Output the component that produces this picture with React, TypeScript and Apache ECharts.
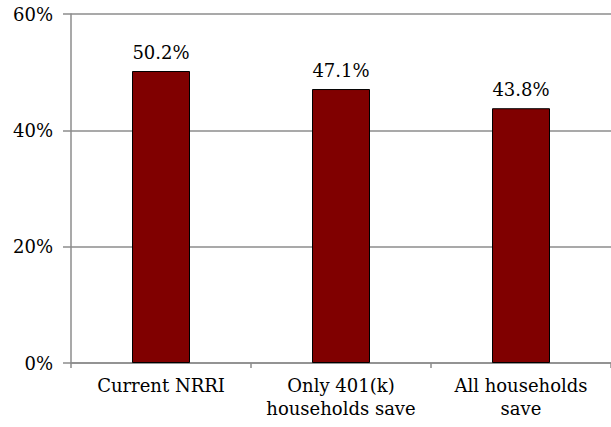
import React, { useEffect, useRef } from "react";
import * as echarts from "echarts";

const categories = ["Current NRRI", "Only 401(k)\nhouseholds save", "All households\nsave"];
const values = [50.2, 47.1, 43.8];
const yTicks = [0, 20, 40, 60];

export default function App() {
  const ref = useRef<HTMLDivElement>(null);
  useEffect(() => {
    const chart = echarts.init(ref.current!, null, { renderer: "svg" });
    const font = "DejaVu Serif";
    chart.setOption({
      animation: false,
      textStyle: { fontFamily: font },
      grid: { left: 71, right: -6, top: 14, bottom: 64, containLabel: false },
      xAxis: {
        type: "category",
        data: categories,
        axisLine: { lineStyle: { color: "#8c8c8c", width: 1.5 } },
        axisTick: { show: true, length: 5, lineStyle: { color: "#8c8c8c", width: 1.5 } },
        axisLabel: {
          color: "#000",
          fontFamily: font,
          fontSize: 18,
          lineHeight: 23,
          margin: 11,
          interval: 0,
        },
      },
      yAxis: {
        type: "value",
        min: yTicks[0],
        max: yTicks[yTicks.length - 1],
        interval: 20,
        axisLine: { show: true, lineStyle: { color: "#8c8c8c", width: 1.5 } },
        axisTick: { show: true, length: 8, lineStyle: { color: "#8c8c8c", width: 1.5 } },
        splitLine: { show: true, lineStyle: { color: "#8c8c8c", width: 1.5 } },
        axisLabel: {
          color: "#000",
          fontFamily: font,
          fontSize: 18,
          margin: 18,
          formatter: (v: number) => v + "%",
        },
      },
      series: [
        {
          type: "bar",
          data: values,
          barWidth: 58,
          itemStyle: { color: "#800000", borderColor: "#000", borderWidth: 1 },
          label: {
            show: true,
            position: "top",
            distance: 10,
            color: "#000",
            fontFamily: font,
            fontSize: 18,
            formatter: (p: any) => p.value.toFixed(1) + "%",
          },
        },
      ],
    });
    return () => chart.dispose();
  }, []);
  return <div ref={ref} style={{ width: 611, height: 427, position: "absolute", left: 0, top: 0 }} />;
}
